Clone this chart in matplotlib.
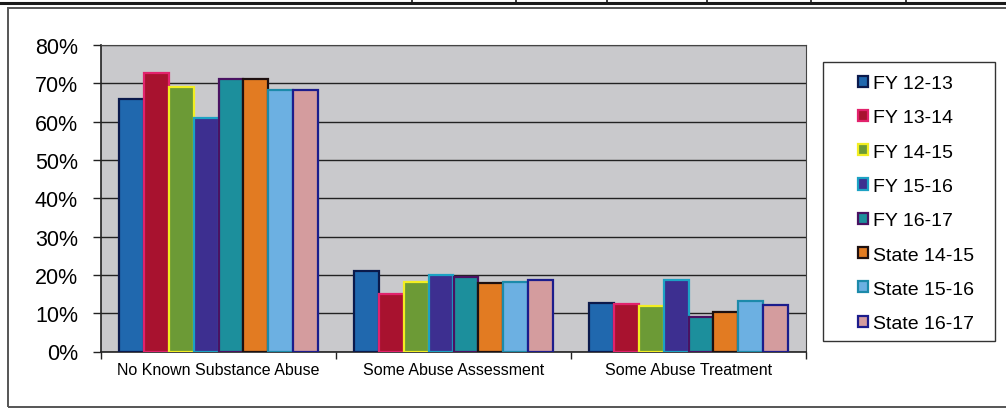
import matplotlib.pyplot as plt
from matplotlib.lines import Line2D
from matplotlib.patches import Rectangle
import numpy as np

plt.rcParams['font.family'] = ['Liberation Sans', 'DejaVu Sans']

categories = ["No Known Substance Abuse", "Some Abuse Assessment", "Some Abuse Treatment"]
series = ["FY 12-13", "FY 13-14", "FY 14-15", "FY 15-16", "FY 16-17",
          "State 14-15", "State 15-16", "State 16-17"]
fy_12_13 = [66, 21, 12.7]
fy_13_14 = [72.8, 14.9, 12.3]
fy_14_15 = [69, 18.2, 12]
fy_15_16 = [61, 19.9, 18.6]
fy_16_17 = [71, 19.4, 9]
state_14_15 = [71, 18, 10.3]
state_15_16 = [68.2, 18.2, 13.1]
state_16_17 = [68.2, 18.6, 12.1]
values = [fy_12_13, fy_13_14, fy_14_15, fy_15_16, fy_16_17,
          state_14_15, state_15_16, state_16_17]
y_ticks = [0, 10, 20, 30, 40, 50, 60, 70, 80]
y_labels = ["0%", "10%", "20%", "30%", "40%", "50%", "60%", "70%", "80%"]

fills = ["#2068ae", "#a8122f", "#6c9a36", "#3d2f90", "#1c8f9c",
         "#e27b22", "#6cb0e2", "#d49c9e"]
edges = ["#0b1a4c", "#e2226c", "#f2ee22", "#1ca2c4", "#4a1262",
         "#1e1010", "#1c8aaa", "#1c1c8c"]

W, H = 1006, 410
fig = plt.figure(figsize=(W / 100, H / 100), dpi=100)
fig.patch.set_facecolor("white")

# scanned page decoration: table edge at top and the chart frame
fig.add_artist(Line2D([0, 1], [1 - 4 / H, 1 - 4 / H], color="#1a1a1a", lw=2.2))
for xp in [412, 516, 607, 707, 811, 906]:
    fig.add_artist(Line2D([xp / W, xp / W], [1 - 4 / H, 1], color="#1a1a1a", lw=1.2))
fig.add_artist(Rectangle((8 / W, 2 / H), 1.2, 1 - 11 / H, transform=fig.transFigure,
                         fill=False, edgecolor="#555555", lw=1.4))

left, right, top, bottom = 101, 806, 46, 352.5
ax = fig.add_axes([left / W, 1 - bottom / H, (right - left) / W, (bottom - top) / H])
ax.set_facecolor("#c9c9cc")

n = len(series)
bw = 0.1055
x = np.arange(len(categories))
for i, (name, vals) in enumerate(zip(series, values)):
    off = (i - (n - 1) / 2) * bw
    ax.bar(x + off, vals, width=bw, color=fills[i], edgecolor=edges[i],
           linewidth=1.6, label=name, zorder=3)

ax.set_xlim(-0.5, len(categories) - 0.5)
ax.set_ylim(0, 80)
ax.set_yticks(y_ticks)
ax.set_yticklabels(y_labels, fontsize=15.5)
ax.yaxis.grid(True, color="#222222", lw=1.0, zorder=0)
ax.set_axisbelow(True)
ax.tick_params(axis="y", length=6, width=1, pad=10.5, color="#222222")

ax.set_xticks(x)
ax.set_xticklabels(categories, fontsize=11.5)
ax.set_xticks(np.arange(len(categories) + 1) - 0.5, minor=True)
ax.tick_params(axis="x", which="major", length=0, pad=7.5)
ax.tick_params(axis="x", which="minor", length=5, width=1, color="#222222")

for s in ["left", "bottom"]:
    ax.spines[s].set_color("#222222")
    ax.spines[s].set_linewidth(1.2)
ax.spines["top"].set_color("#444444")
ax.spines["right"].set_color("#444444")

# legend box drawn separately so the inner padding can match the original
fig.add_artist(Rectangle((823 / W, 1 - 342 / H), (995 - 823) / W, (342 - 63) / H,
                         transform=fig.transFigure, fill=False,
                         edgecolor="#333333", lw=1.0))
leg = fig.legend(loc="upper left", bbox_to_anchor=(858 / W, 1 - 76 / H),
                 fontsize=14, frameon=False,
                 handlelength=0.5, handleheight=0.5, handletextpad=0.25,
                 labelspacing=0.89, borderpad=0, borderaxespad=0)

fig.savefig("out.png", dpi=100)
